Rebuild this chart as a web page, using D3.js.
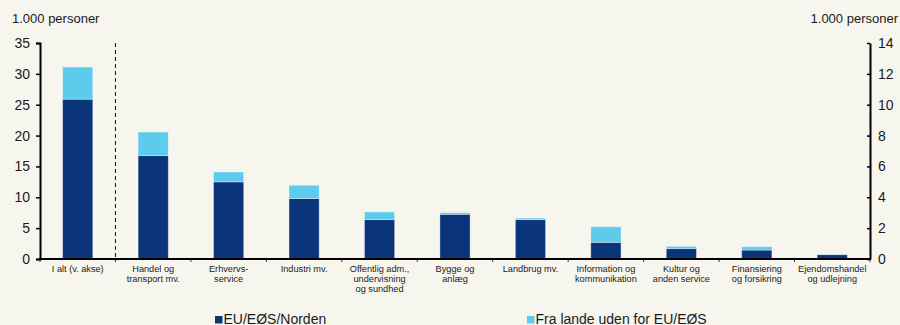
<!DOCTYPE html>
<html>
<head>
<meta charset="utf-8">
<script src="https://cdn.jsdelivr.net/npm/d3@7/dist/d3.min.js"></script>
<style>
body{
margin:0;
background:#f6f6ee;
font-family:"Liberation Sans",Arial,sans-serif;
}
svg text{fill:#1a1a1a;}
</style>
</head>
<body>
<div id="chart"></div>
<script>
// categories, multi-line labels split with |
var categories = [
"I alt (v. akse)",
"Handel og|transport mv.",
"Erhvervs-|service",
"Industri mv.",
"Offentlig adm.,|undervisning|og sundhed",
"Bygge og|anlæg",
"Landbrug mv.",
"Information og|kommunikation",
"Kultur og|anden service",
"Finansiering|og forsikring",
"Ejendomshandel|og udlejning"
]
// 1.000 personer; first bar on left axis, rest on right axis
var euNorden = [25.9, 6.7, 5.0, 3.92, 2.55, 2.9, 2.55, 1.08, 0.67, 0.58, 0.28]
var udenEU = [5.2, 1.53, 0.64, 0.86, 0.5, 0.1, 0.1, 1.01, 0.15, 0.22, 0.03]
var leftTicks = [0,5,10,15,20,25,30,35]
var rightTicks = [0,2,4,6,8,10,12,14]
var seriesNames = ["EU/EØS/Norden","Fra lande uden for EU/EØS"]

var darkBlue = "#0a357a"
var lightBlue = "#5dcbec"

var W = 900, H = 325
var plotL = 40, plotR = 870, plotT = 43, plotB = 259

var svg = d3.select("#chart").append("svg")
.attr("width",W)
.attr("height",H)

var x = d3.scaleBand()
.domain(categories)
.range([plotL,plotR])
.paddingInner(0.6)
.paddingOuter(0.3)

var yL = d3.scaleLinear().domain([0,35]).range([plotB,plotT])
var yR = d3.scaleLinear().domain([0,14]).range([plotB,plotT])

var data = categories.map(function(c,i){
return {cat:c, eu:euNorden[i], non:udenEU[i], y:i==0?yL:yR}
})

// bars
var g = svg.append("g")
g.selectAll(".eu")
.data(data)
.enter()
.append("rect")
.attr("x",function(d){return x(d.cat)})
.attr("width",x.bandwidth())
.attr("y",function(d){return d.y(d.eu)})
.attr("height",function(d){return d.y(0)-d.y(d.eu)})
.attr("fill",darkBlue)
.attr("stroke","#ffffff")
.attr("stroke-opacity",0.45)
.attr("stroke-width",0.8)

g.selectAll(".non")
.data(data)
.enter()
.append("rect")
.attr("x",function(d){return x(d.cat)})
.attr("width",x.bandwidth())
.attr("y",function(d){return d.y(d.eu+d.non)})
.attr("height",function(d){return d.y(d.eu)-d.y(d.eu+d.non)})
.attr("fill",lightBlue)
.attr("stroke","#ffffff")
.attr("stroke-opacity",0.45)
.attr("stroke-width",0.8)

// dashed separator after first category
var step = x.step()
var sepX = plotL + step
svg.append("line")
.attr("x1",sepX).attr("x2",sepX)
.attr("y1",plotT).attr("y2",plotB)
.attr("stroke","#111")
.attr("stroke-width",1)
.attr("stroke-dasharray","4,3")

// left axis
var axL = svg.append("g")
.attr("transform","translate("+plotL+",0)")
.call(d3.axisLeft(yL).tickValues(leftTicks).tickSize(4).tickPadding(6).tickSizeOuter(4))
axL.select(".domain").attr("stroke","#000").attr("stroke-width",2)
axL.selectAll(".tick line").attr("stroke","#000").attr("stroke-width",1.5)
axL.selectAll("text").attr("font-size",14).attr("font-family","Liberation Sans, Arial, sans-serif").attr("fill","#1a1a1a")

// right axis, ticks pointing inward
var axR = svg.append("g")
.attr("transform","translate("+plotR+",0)")
.call(d3.axisRight(yR).tickValues(rightTicks).tickSize(-3).tickPadding(8).tickSizeOuter(0))
axR.select(".domain").attr("stroke","#000").attr("stroke-width",2)
axR.selectAll(".tick line").attr("stroke","#000").attr("stroke-width",1.5)
axR.selectAll("text").attr("font-size",14).attr("font-family","Liberation Sans, Arial, sans-serif").attr("fill","#1a1a1a")

// baseline with small ticks at slot edges
var edges = d3.range(categories.length+1).map(function(i){return plotL+i*step})
svg.selectAll(".xt")
.data(edges)
.enter()
.append("line")
.attr("x1",function(d){return d}).attr("x2",function(d){return d})
.attr("y1",plotB).attr("y2",plotB+3)
.attr("stroke","#333")
.attr("stroke-width",1)
svg.append("line")
.attr("x1",plotL-1).attr("x2",plotR+1)
.attr("y1",plotB).attr("y2",plotB)
.attr("stroke","#000")
.attr("stroke-width",2)

// category labels
var labels = svg.selectAll(".cat")
.data(categories)
.enter()
.append("text")
.attr("text-anchor","middle")
.attr("font-size",9.2)
.attr("fill","#222")
.attr("transform",function(d){return "translate("+(x(d)+x.bandwidth()/2)+",272)"})
labels.selectAll("tspan")
.data(function(d){return d.split("|")})
.enter()
.append("tspan")
.attr("x",0)
.attr("y",function(d,i){return i*10})
.text(function(d){return d})

// unit labels
svg.append("text").attr("x",12).attr("y",23).attr("font-size",13).text("1.000 personer")
svg.append("text").attr("x",898).attr("y",23).attr("font-size",13).attr("text-anchor","end").text("1.000 personer")

// legend
var legX = [215,527]
var legC = [darkBlue,lightBlue]
var leg = svg.selectAll(".leg")
.data(seriesNames)
.enter()
.append("g")
.attr("transform",function(d,i){return "translate("+legX[i]+",0)"})
leg.append("rect")
.attr("x",0).attr("y",316)
.attr("width",7.5).attr("height",7.5)
.attr("fill",function(d,i){return legC[i]})
leg.append("text")
.attr("x",8.5).attr("y",323.5)
.attr("font-size",14)
.text(function(d){return d})
</script>
</body>
</html>
